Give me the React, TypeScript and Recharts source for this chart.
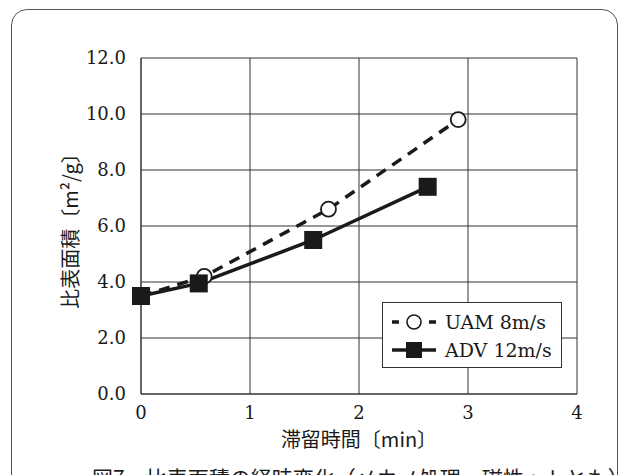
import React from "react";
import { LineChart, Line, XAxis, YAxis, CartesianGrid, Legend } from "recharts";

// 比表面積の経時変化
const uamTime = [0, 0.58, 1.72, 2.91];
const uamArea = [3.5, 4.2, 6.6, 9.8];
const advTime = [0, 0.53, 1.58, 2.63];
const advArea = [3.5, 3.95, 5.5, 7.4];

const xTicks = [0, 1, 2, 3, 4];
const yTicks = [0, 2, 4, 6, 8, 10, 12];

const seriesNames = ["UAM 8m/s", "ADV 12m/s"];

const uamData = uamTime.map((t, i) => ({ t, v: uamArea[i] }));
const advData = advTime.map((t, i) => ({ t, v: advArea[i] }));

const INK = "#1a1a1a";
const SERIF = "'DejaVu Serif', 'Liberation Serif', serif";
const JP = "'Noto Sans CJK JP', sans-serif";

const SquareDot = (props: any) => {
  const { cx, cy, index } = props;
  if (cx == null || cy == null) return null;
  return <rect key={`sq-${index}`} x={cx - 9} y={cy - 9} width={18} height={18} fill={INK} />;
};

const CircleDot = (props: any) => {
  const { cx, cy, index } = props;
  if (cx == null || cy == null) return null;
  return (
    <circle key={`c-${index}`} cx={cx} cy={cy} r={7.5} fill="#fff" stroke={INK} strokeWidth={1.8} />
  );
};

const LegendBox = () => (
  <div
    style={{
      border: "1.5px solid #333",
      background: "#fff",
      width: 180,
      height: 66,
      boxSizing: "border-box",
      padding: "5px 0 0 8px",
      fontFamily: SERIF,
      fontSize: 19,
      color: INK,
    }}
  >
    <div style={{ display: "flex", alignItems: "center", height: 28 }}>
      <svg width={46} height={20}>
        <line x1={1} y1={10} x2={8} y2={10} stroke={INK} strokeWidth={3.5} />
        <line x1={38} y1={10} x2={45} y2={10} stroke={INK} strokeWidth={3.5} />
        <circle cx={23} cy={10} r={7} fill="#fff" stroke={INK} strokeWidth={1.6} />
      </svg>
      <span style={{ marginLeft: 8 }}>{seriesNames[0]}</span>
    </div>
    <div style={{ display: "flex", alignItems: "center", height: 28 }}>
      <svg width={46} height={20}>
        <line x1={1} y1={10} x2={45} y2={10} stroke={INK} strokeWidth={3.5} />
        <rect x={15} y={2} width={16} height={16} fill={INK} />
      </svg>
      <span style={{ marginLeft: 8 }}>{seriesNames[1]}</span>
    </div>
  </div>
);

const YTitle = (props: any) => {
  const { viewBox } = props;
  const cx = viewBox.x - 12;
  const cy = viewBox.y + viewBox.height / 2;
  return (
    <text
      x={cx}
      y={cy}
      transform={`rotate(-90 ${cx} ${cy})`}
      textAnchor="middle"
      dominantBaseline="central"
      fontFamily={JP}
      fontSize={20}
      fill={INK}
    >
      比表面積〔m²/g〕
    </text>
  );
};

const XTitle = (props: any) => {
  const { viewBox } = props;
  return (
    <text
      x={viewBox.x + viewBox.width / 2}
      y={447}
      textAnchor="middle"
      fontFamily={JP}
      fontSize={20}
      fill={INK}
    >
      滞留時間〔min〕
    </text>
  );
};

export default function App() {
  return (
    <div
      style={{
        position: "fixed",
        left: 0,
        top: 0,
        width: 622,
        height: 475,
        overflow: "hidden",
        background: "#fff",
      }}
    >
      <div
        style={{
          position: "absolute",
          left: 11,
          top: 9,
          width: 605,
          height: 490,
          border: "1.5px solid #555",
          borderRadius: 16,
        }}
      />
      <div
        style={{
          position: "absolute",
          left: 92,
          top: 462,
          fontFamily: JP,
          fontSize: 21,
          color: INK,
          whiteSpace: "nowrap",
        }}
      >
        図7　比表面積の経時変化（メカノ処理・磁性ットとも）
      </div>
      <LineChart
        width={622}
        height={475}
        margin={{ top: 58, right: 45, left: 81, bottom: 31 }}
        style={{ position: "absolute", left: 0, top: 0 }}
      >
        <CartesianGrid stroke="#333" strokeWidth={1} />
        <XAxis
          dataKey="t"
          type="number"
          domain={[0, 4]}
          ticks={xTicks}
          interval={0}
          height={50}
          tickLine={false}
          axisLine={{ stroke: "#333" }}
          tickMargin={6}
          tick={{ fontFamily: SERIF, fontSize: 18, fill: INK }}
          label={<XTitle />}
        />
        <YAxis
          type="number"
          domain={[0, 12]}
          ticks={yTicks}
          interval={0}
          width={60}
          tickLine={false}
          axisLine={{ stroke: "#333" }}
          tickMargin={9}
          tickFormatter={(v: number) => v.toFixed(1)}
          tick={{ fontFamily: SERIF, fontSize: 18, fill: INK }}
          label={<YTitle />}
        />
        <Legend
          layout="horizontal"
          verticalAlign="middle"
          align="center"
          content={<LegendBox />}
          wrapperStyle={{ position: "absolute", left: 382, top: 302, width: 180, height: 66 }}
        />
        <Line
          data={uamData}
          dataKey="v"
          name={seriesNames[0]}
          type="linear"
          stroke={INK}
          strokeWidth={3.5}
          strokeDasharray="11 8"
          dot={<CircleDot />}
          isAnimationActive={false}
        />
        <Line
          data={advData}
          dataKey="v"
          name={seriesNames[1]}
          type="linear"
          stroke={INK}
          strokeWidth={3.5}
          dot={<SquareDot />}
          isAnimationActive={false}
        />
      </LineChart>
    </div>
  );
}
